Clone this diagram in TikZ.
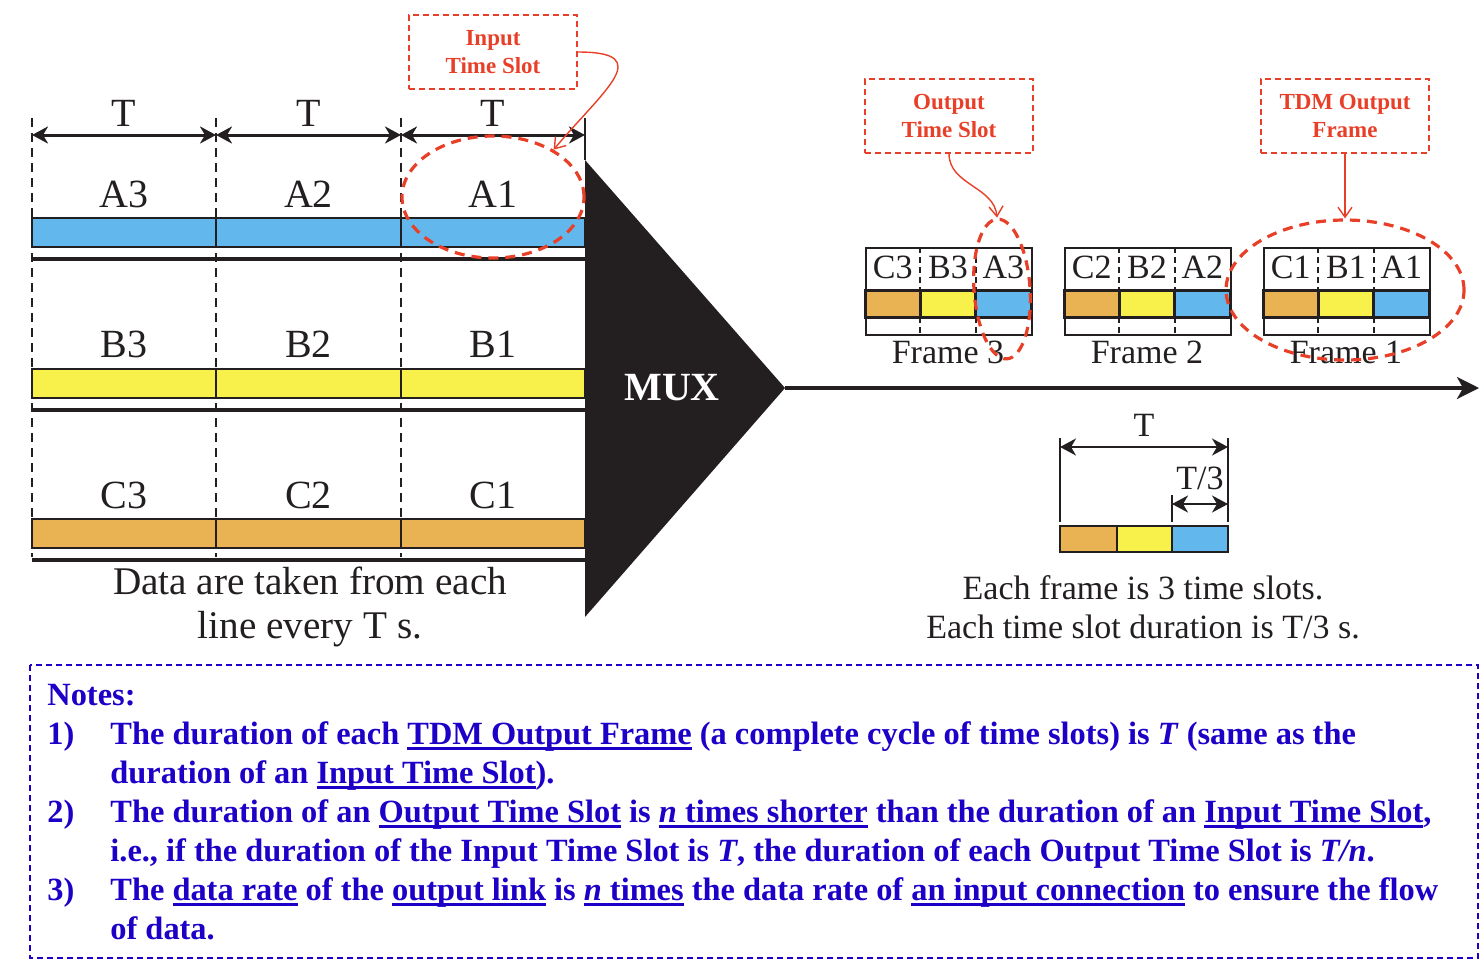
\documentclass[tikz,border=0pt]{standalone}
\usepackage{fontspec}
\setmainfont{Liberation Serif}
\usetikzlibrary{arrows.meta, shapes.geometric, positioning, calc}

\definecolor{ink}{RGB}{35,31,32}
\definecolor{slotblue}{RGB}{98,183,236}
\definecolor{slotyellow}{RGB}{248,241,76}
\definecolor{slotorange}{RGB}{233,179,84}
\definecolor{markred}{RGB}{232,64,40}
\definecolor{noteblue}{RGB}{28,0,200}

\newcommand{\undl}[1]{\leavevmode\setbox0=\hbox{#1}\rlap{\rule[-2.8pt]{\wd0}{1.2pt}}\box0\relax}

\tikzset{
  tspan/.style = {ink, line width = 1.5pt, {Stealth[length = 8pt, width = 8.5pt, inset = 2.5pt]}-{Stealth[length = 8pt, width = 8.5pt, inset = 2.5pt]}},
  guide/.style = {ink, line width = 1.3pt, dash pattern = on 4.5pt off 3pt},
  cell/.style = {draw = ink, line width = 1pt},
  bigtxt/.style = {font = \fontsize{20}{22}\selectfont, inner sep = 0pt, text = ink},
  midtxt/.style = {font = \fontsize{17}{19.5}\selectfont, inner sep = 0pt, text = ink},
  tagbox/.style = {draw = markred, line width = 0.7pt, dash pattern = on 3pt off 2pt, text = markred, font = \fontsize{11.5}{13.8}\selectfont\bfseries, align = center, minimum width = 84pt, minimum height = 37pt, inner sep = 0pt},
  ring/.style = {ellipse, draw = markred, line width = 1.6pt, dash pattern = on 5pt off 3.5pt, inner sep = 0pt},
  pointer/.style = {markred, line width = 0.7pt, -{Straight Barb[length = 5pt, width = 7pt]}},
  note/.style = {anchor = base west, inner sep = 0pt, text = noteblue, font = \fontsize{16.2}{19}\selectfont\bfseries}
}

\begin{document}
\begin{tikzpicture}[x = 0.5pt, y = -0.5pt]
\useasboundingbox (0,0) rectangle (1481,971);

% input lines
\foreach \x in {32,216,401}
   \draw[guide] (\x,118) -- (\x,557);
\draw[ink, line width = 1.3pt] (585,118) -- (585,160);

\foreach \n/\x in {0/32,1/216,2/401,3/585}
   \coordinate (g\n) at (\x,135);
\foreach \a/\b/\i in {0/1/3,1/2/2,2/3/1}{
   \draw[tspan] (g\a) -- (g\b);
   \node[bigtxt, anchor = base] (tin\i) at ($(g\a)!0.5!(g\b)+(0,-9)$) {T};
   }

\foreach \r/\y/\c/\ly in {A/218/slotblue/207, B/369/slotyellow/357, C/519/slotorange/508}{
   \foreach \i/\xa/\xb in {3/32/216, 2/216/401, 1/401/585}{
      \filldraw[cell, fill = \c] (\xa,\y) rectangle (\xb,\y+29);
      \node[bigtxt, anchor = base] (in\r\i) at ({(\xa+\xb)/2},\ly) {\r\i};
      }
   \draw[ink, line width = 2pt] (32,\y+41) -- (585,\y+41);
   }

\node[bigtxt, anchor = base, align = center, font = \fontsize{19.6}{22}\selectfont] (intext) at (310,638) {Data are taken from each\\line every T s.};

% multiplexer
\coordinate (muxtop) at (585,160);
\coordinate (muxtip) at (785,388);
\coordinate (muxbot) at (585,617);
\fill[ink] (muxtop) -- (muxtip) -- (muxbot) -- cycle;
\node[font = \fontsize{20}{22}\selectfont\bfseries, text = white, inner sep = 0pt] (mux) at (672,388) {MUX};

\coordinate (linkend) at (1479,388);
\draw[ink, line width = 1.6pt, -{Stealth[length = 11pt, width = 11pt, inset = 3pt]}] (muxtip) -- (linkend);

% output frames
\foreach \f/\x in {3/865, 2/1064, 1/1263}{
   \node[draw = ink, line width = 1pt, minimum width = 83pt, minimum height = 43.5pt, anchor = north west, inner sep = 0pt] (frame\f) at (\x,247) {};
   \foreach \k in {1,2}
      \draw[ink, line width = 0.9pt, dash pattern = on 3pt off 2pt] (\x+\k*55.33,247) -- (\x+\k*55.33,334);
   \foreach \s/\k/\c in {C/0/slotorange, B/1/slotyellow, A/2/slotblue}{
      \filldraw[draw = ink, line width = 1.5pt, fill = \c] (\x+\k*55.33,290) rectangle (\x+\k*55.33+55.33,317);
      \node[midtxt, anchor = base] (out\s\f) at (\x+\k*55.33+27.67,278) {\s\f};
      }
   \node[midtxt, anchor = base] (frm\f) at (\x+83,363) {Frame \f};
   }

% frame timing
\coordinate (s0) at (1060,447);
\coordinate (s3) at (1228,447);
\coordinate (u2) at (1172,504);
\coordinate (u3) at (1228,504);
\draw[ink, line width = 1pt] (1060,438) -- (1060,522) (1228,438) -- (1228,522) (1172,495) -- (1172,522);
\draw[tspan, line width = 1pt] (s0) -- (s3);
\draw[tspan, line width = 1pt] (u2) -- (u3);
\node[midtxt, anchor = base] (tout) at (1144,436) {T};
\node[midtxt, anchor = base] (tslot) at (1200,489) {T/3};
\foreach \xa/\xb/\c in {1060/1117/slotorange, 1117/1172/slotyellow, 1172/1228/slotblue}
   \filldraw[cell, fill = \c] (\xa,526) rectangle (\xb,552);
\node[midtxt, anchor = base, align = center] (outtext) at (1143,638) {Each frame is 3 time slots.\\Each time slot duration is T/3 s.};

% callouts
\node[tagbox] (inslot) at (493,52) {Input\\Time Slot};
\node[tagbox] (outslot) at (949,116) {Output\\Time Slot};
\node[tagbox] (tdmframe) at (1345,116) {TDM Output\\Frame};

\node[ring, minimum width = 91pt, minimum height = 61pt] (ringA1) at (493,197) {};
\node[ring, minimum width = 28pt, minimum height = 70pt, rotate = 4] (ringA3) at (1002,289) {};
\node[ring, minimum width = 119pt, minimum height = 70pt] (ringF1) at (1345,290) {};

\draw[pointer] (inslot.east) to[out = 0, in = 50, looseness = 2] (ringA1.38);
\draw[pointer] (outslot.south) to[out = -90, in = 95] (ringA3.north);
\draw[pointer] (tdmframe.south) -- (ringF1.north);

% notes
\draw[noteblue, line width = 0.8pt, dash pattern = on 3pt off 2pt] (30,665) rectangle (1478,958);
\node[note] (notes) at (47,705) {Notes:};
\node[note] (num1) at (47,744) {1)};
\node[note] (n1a) at (110,744) {The duration of each \undl{TDM Output Frame} (a complete cycle of time slots) is \textit{T} (same as the};
\node[note] (n1b) at (110,783) {duration of an \undl{Input Time Slot}).};
\node[note] (num2) at (47,822) {2)};
\node[note] (n2a) at (110,822) {The duration of an \undl{Output Time Slot} is \undl{\textit{n} times shorter} than the duration of an \undl{Input Time Slot},};
\node[note] (n2b) at (110,861) {i.e., if the duration of the Input Time Slot is \textit{T}, the duration of each Output Time Slot is \textit{T/n}.};
\node[note] (num3) at (47,900) {3)};
\node[note] (n3a) at (110,900) {The \undl{data rate} of the \undl{output link} is \undl{\textit{n} times} the data rate of \undl{an input connection} to ensure the flow};
\node[note] (n3b) at (110,939) {of data.};
\end{tikzpicture}
\end{document}
